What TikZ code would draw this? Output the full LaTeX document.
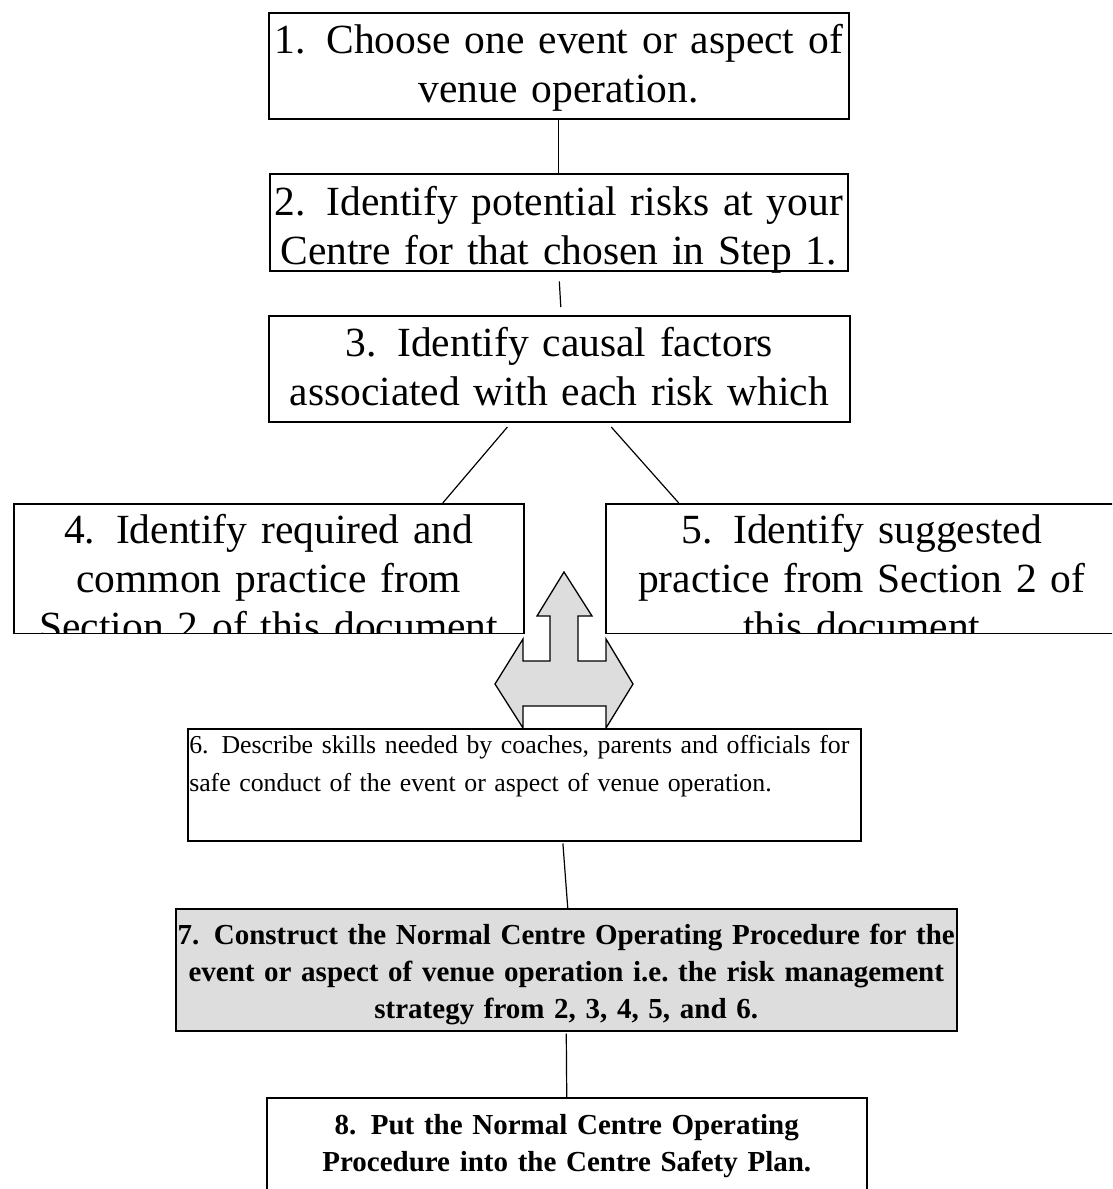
\documentclass[tikz,border=0pt]{standalone}
\usepackage{fontspec}
\setmainfont{Liberation Serif}
\setlength{\parindent}{0pt}
\definecolor{shade}{HTML}{DDDDDD}
\tikzset{
  stepbox/.style={draw=black, line width=1.5pt, inner xsep=-20pt, inner ysep=0pt, anchor=north west, align=center},
  bigfont/.style={font=\fontsize{41.5}{48.5}\selectfont},
  smallfont/.style={font=\fontsize{25.8}{37.5}\selectfont},
  boldfont/.style={font=\fontsize{29}{36.8}\selectfont\bfseries},
  link/.style={line width=1.2pt}
}
\begin{document}
\begin{tikzpicture}[x=1pt,y=-1pt]
\clip (0,0) rectangle (1112,1189);

\node[stepbox,bigfont,text width=620pt,text height=41pt,text depth=65pt] (s1) at (268,12) {1.\enspace Choose one event or aspect of\\venue operation.};
\node[stepbox,bigfont,text width=618pt,text height=42pt,text depth=55pt] (s2) at (269,173) {2.\enspace Identify potential risks at your\\Centre for that chosen in Step 1.};
\node[stepbox,bigfont,text width=621pt,text height=41pt,text depth=65pt] (s3) at (268,315) {3.\enspace Identify causal factors\\associated with each risk which};

% 4 and 5: last line runs out of the box
\begin{scope}
\clip (11,501) rectangle (525,633.8);
\node[stepbox,bigfont,text width=550pt,text height=40pt,text depth=90pt] (s4) at (13,503) {4.\enspace Identify required and\\common practice from\\Section 2 of this document};
\end{scope}
\begin{scope}
\clip (603,501) rectangle (1120,633.8);
\node[stepbox,bigfont,text width=552pt,text height=40pt,text depth=90pt] (s5) at (605,503) {5.\enspace Identify suggested\\practice from Section 2 of\\this document};
\end{scope}

\node[stepbox,smallfont,align=left,inner xsep=1.5pt,text width=670pt,text height=25pt,text depth=87pt] (s6) at (187,728) {6.\enspace Describe skills needed by coaches, parents and officials for\\safe conduct of the event or aspect of venue operation.};
\node[stepbox,boldfont,fill=shade,text width=821pt,text height=36pt,text depth=86pt] (s7) at (175,908) {7.\enspace Construct the Normal Centre Operating Procedure for the\\event or aspect of venue operation i.e.\ the risk management\\strategy from 2, 3, 4, 5, and 6.};
\node[stepbox,boldfont,text width=640pt,text height=37pt,text depth=120pt] (s8) at (266,1097) {8.\enspace Put the Normal Centre Operating\\Procedure into the Centre Safety Plan.};

% block arrow between 4, 5 and 6
\filldraw[fill=shade, line width=1.3pt, line join=miter] (564,572) -- (592,616) -- (578,616) -- (578,661) -- (606,661) -- (606,639) -- (633,684) -- (606,728) -- (606,706) -- (523,706) -- (523,728) -- (495,684) -- (523,639) -- (523,661) -- (550,661) -- (550,616) -- (537,616) -- cycle;

\draw[link] (s1) -- (s2);
\draw[link, shorten <=10pt, shorten >=8pt] (s2.south) -- ([xshift=2pt]s3.north);
\draw[link, shorten <=6pt] ([xshift=-48pt]s3.south) -- ([xshift=174pt]s4.north);
\draw[link, shorten <=6pt] ([xshift=48pt]s3.south) -- ([xshift=-183pt]s5.north);
\draw[link, shorten <=2pt] ([xshift=38.5pt]s6.south) -- ([xshift=1.5pt]s7.north);
\draw[link, shorten <=2pt] (s7.south) -- (s8.north);
\end{tikzpicture}
\end{document}
